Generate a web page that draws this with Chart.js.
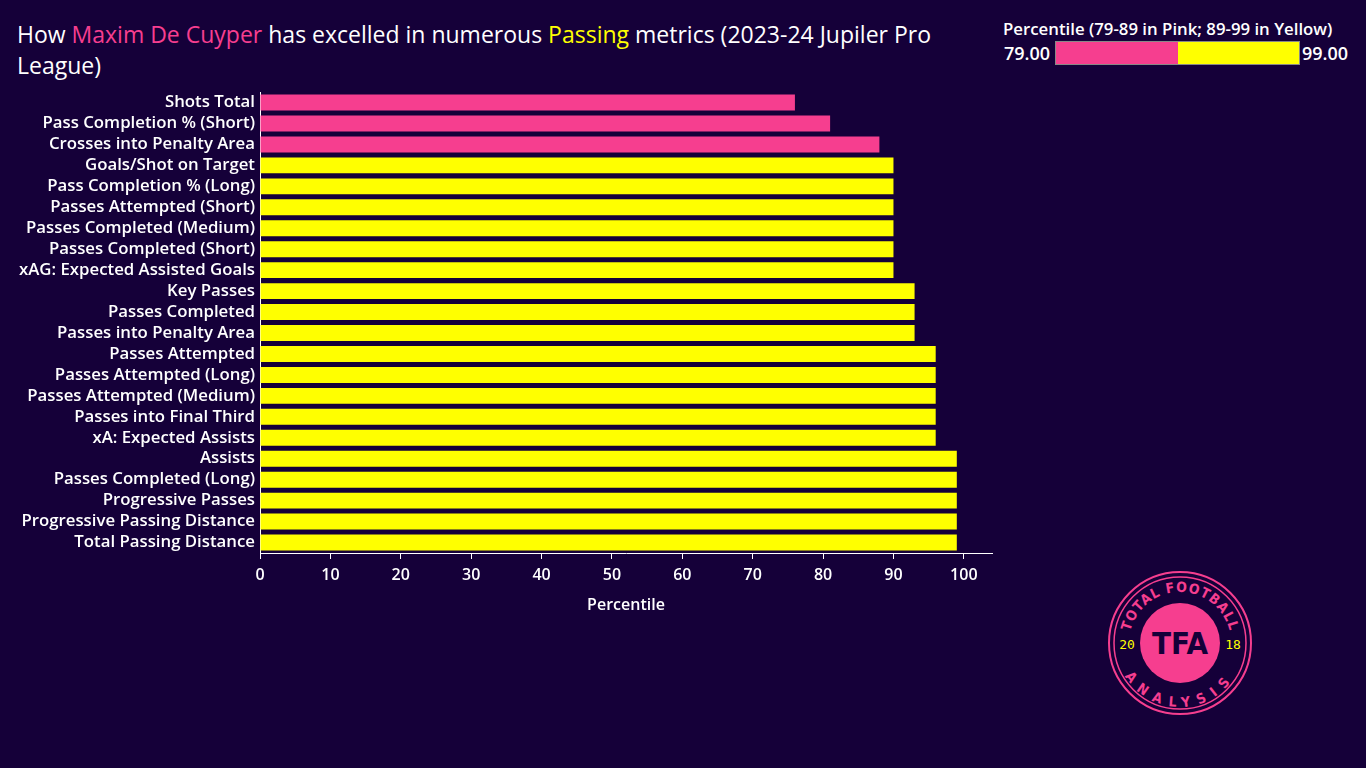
<!DOCTYPE html>
<html>
<head>
<meta charset="utf-8">
<script src="https://cdn.jsdelivr.net/npm/chart.js@4.4.1/dist/chart.umd.min.js"></script>
<style>
    html, body { margin: 0; padding: 0; background: #150039; width: 1366px; height: 768px; overflow: hidden; }
    body { position: relative; font-family: "Open Sans", sans-serif; color: #fff; }
    #title { position: absolute; left: 17px; top: 19px; font-size: 23px; line-height: 31px; font-weight: 500; }
    #title .pink { color: #f63e8f; }
    #title .yellow { color: #ffff00; }
    #legend { position: absolute; left: 1003px; top: 17px; width: 360px; font-weight: 600; }
    #legend .head { white-space: nowrap; font-size: 16.8px; }
    #legend .row { position: relative; height: 26px; margin-top: 1px; font-size: 18px; }
    #legend .lo { position: absolute; left: 1px; top: 0px; }
    #legend .hi { position: absolute; left: 299px; top: 0px; }
    #legend .bar { position: absolute; left: 52px; top: 0; width: 243px; height: 22px; border: 1px solid #888; display: flex; }
    #legend .bar div { flex: 1; }
    #chartBox { position: absolute; left: 0; top: 77px; width: 1000px; height: 565px; }
    #logo { position: absolute; left: 1105px; top: 570px; }
</style>
</head>
<body>
<div id="title">How <span class="pink">Maxim De Cuyper</span> has excelled in numerous <span class="yellow">Passing</span> metrics (2023-24 Jupiler Pro<br>League)</div>

<div id="legend">
    <div class="head">Percentile (79-89 in Pink; 89-99 in Yellow)</div>
    <div class="row">
        <span class="lo">79.00</span>
        <div class="bar"><div style="background:#f63e8f"></div><div style="background:#ffff00"></div></div>
        <span class="hi">99.00</span>
    </div>
</div>

<div id="chartBox"><canvas id="barChart"></canvas></div>

<svg id="logo" width="150" height="150" viewBox="0 0 150 150">
    <defs>
        <path id="topArc" d="M 24 73 A 51 51 0 0 1 126 73"/>
        <path id="botArc" d="M 11 73 A 64 64 0 0 0 139 73"/>
    </defs>
    <circle cx="75" cy="73" r="71" fill="none" stroke="#f63e8f" stroke-width="2"/>
    <circle cx="75" cy="73" r="66" fill="none" stroke="#f63e8f" stroke-width="1.5"/>
    <circle cx="75" cy="73" r="40" fill="#f63e8f"/>
    <text font-family="'DejaVu Sans Condensed', sans-serif" font-weight="bold" font-size="14" fill="#f63e8f">
        <textPath href="#topArc" startOffset="50%" text-anchor="middle" letter-spacing="1">TOTAL FOOTBALL</textPath>
    </text>
    <text font-family="'DejaVu Sans Condensed', sans-serif" font-weight="bold" font-size="14" fill="#f63e8f">
        <textPath href="#botArc" startOffset="50%" text-anchor="middle" letter-spacing="8">ANALYSIS</textPath>
    </text>
    <text x="75" y="84" text-anchor="middle" font-family="'DejaVu Sans Condensed', sans-serif" font-weight="bold" font-size="31" fill="#150039">TFA</text>
    <text x="22" y="79" text-anchor="middle" font-family="'DejaVu Sans Mono', monospace" font-size="13" fill="#ffff00">20</text>
    <text x="128" y="79" text-anchor="middle" font-family="'DejaVu Sans Mono', monospace" font-size="13" fill="#ffff00">18</text>
</svg>

<script>
// Metrics and their percentile ranks
const metrics = [
    'Shots Total',
    'Pass Completion % (Short)',
    'Crosses into Penalty Area',
    'Goals/Shot on Target',
    'Pass Completion % (Long)',
    'Passes Attempted (Short)',
    'Passes Completed (Medium)',
    'Passes Completed (Short)',
    'xAG: Expected Assisted Goals',
    'Key Passes',
    'Passes Completed',
    'Passes into Penalty Area',
    'Passes Attempted',
    'Passes Attempted (Long)',
    'Passes Attempted (Medium)',
    'Passes into Final Third',
    'xA: Expected Assists',
    'Assists',
    'Passes Completed (Long)',
    'Progressive Passes',
    'Progressive Passing Distance',
    'Total Passing Distance'
];
const percentiles = [76, 81, 88, 90, 90, 90, 90, 90, 90, 93, 93, 93, 96, 96, 96, 96, 96, 99, 99, 99, 99, 99];
const xTicks = [0, 10, 20, 30, 40, 50, 60, 70, 80, 90, 100];

const PINK = '#f63e8f';
const YELLOW = '#ffff00';
const labelFont = { family: '"Open Sans", sans-serif', size: 16.8, weight: '600' };
const tickFont = { family: '"Open Sans", sans-serif', size: 16, weight: '600' };

const barColors = percentiles.map(v => v >= 89 ? YELLOW : PINK);

const ctx = document.getElementById('barChart');
const barChart = new Chart(ctx, {
    type: 'bar',
    data: {
        labels: metrics,
        datasets: [{
            label: 'Percentile',
            data: percentiles,
            backgroundColor: barColors,
            borderWidth: 0,
            categoryPercentage: 1.0,
            barPercentage: 0.76
        }]
    },
    options: {
        indexAxis: 'y',
        responsive: true,
        maintainAspectRatio: false,
        animation: false,
        layout: { padding: { left: 0, right: 8, top: 0, bottom: 0 } },
        plugins: {
            legend: { display: false },
            tooltip: { enabled: false }
        },
        scales: {
            x: {
                min: 0,
                max: 104,
                afterBuildTicks: scale => {
                    scale.ticks = xTicks.map(v => ({ value: v }));
                },
                afterFit: scale => { scale.height = 89; },
                grid: { drawOnChartArea: false, drawTicks: true, tickLength: 6, color: '#ffffff' },
                border: { color: '#ffffff', width: 1 },
                ticks: { color: '#ffffff', font: tickFont, padding: 7, maxRotation: 0 },
                title: {
                    display: true,
                    text: 'Percentile',
                    color: '#ffffff',
                    font: tickFont,
                    padding: { top: 0, bottom: 27 }
                }
            },
            y: {
                afterFit: scale => { scale.width = 260; },
                grid: { display: false, drawTicks: false },
                border: { color: '#ffffff', width: 1 },
                ticks: { color: '#ffffff', font: labelFont, padding: 5, autoSkip: false }
            }
        }
    }
});
</script>
</body>
</html>
